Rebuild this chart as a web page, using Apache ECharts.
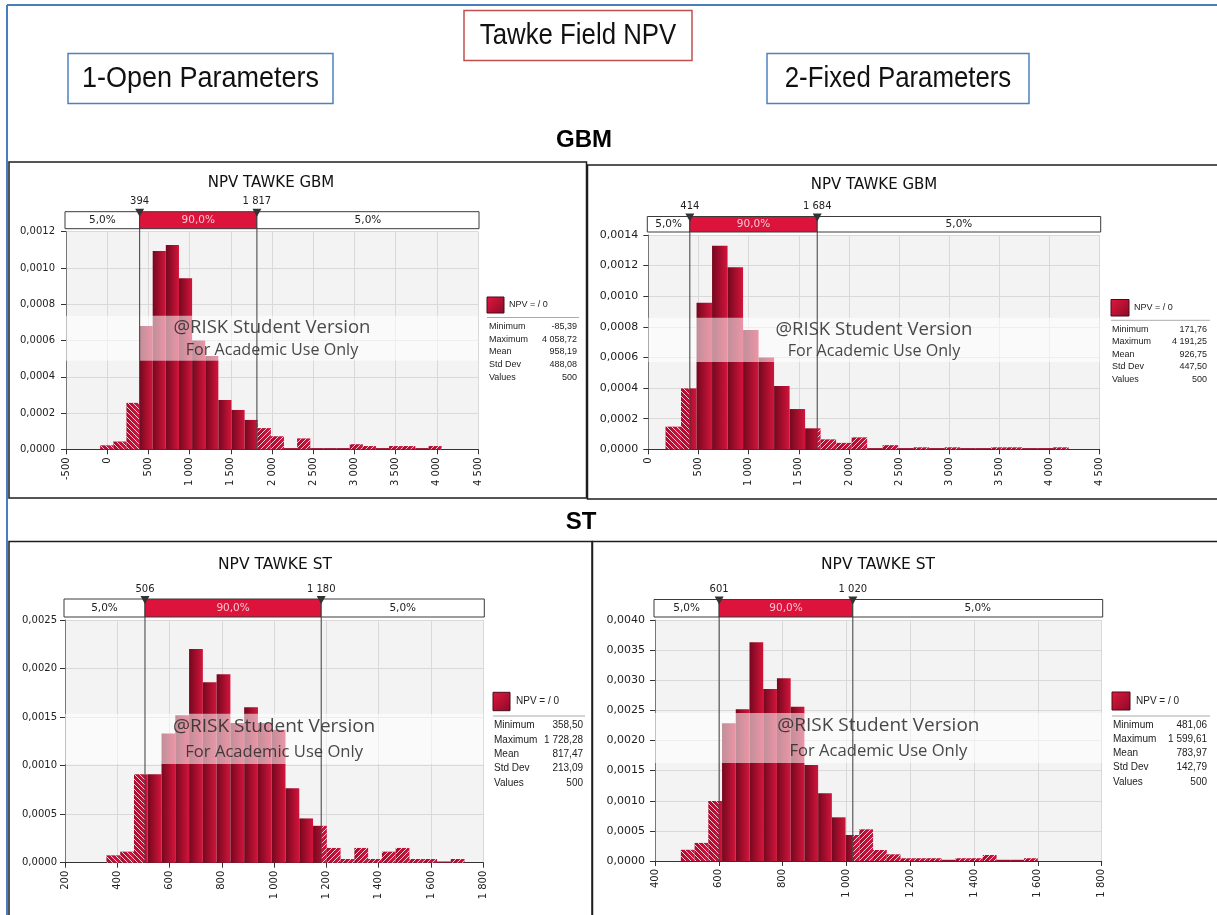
<!DOCTYPE html>
<html><head><meta charset="utf-8">
<script src="https://cdn.jsdelivr.net/npm/echarts@6/dist/echarts.min.js"></script>
<style>html,body{margin:0;padding:0;background:#fff;}#c{width:1217px;height:915px;}</style>
</head><body><div id="c"></div>
<script>
// ================= DATA =================
const pageTitle = 'Tawke Field NPV';
const columnTitles = ['1-Open Parameters', '2-Fixed Parameters'];
const rowTitles = ['GBM', 'ST'];
const panelTitles = ['NPV TAWKE GBM', 'NPV TAWKE GBM', 'NPV TAWKE ST', 'NPV TAWKE ST'];
const legendName = 'NPV = / 0';
const statLabels = ['Minimum', 'Maximum', 'Mean', 'Std Dev', 'Values'];
const tailShares = [5.0, 90.0, 5.0];

// probability density per bin (26 equal bins between Minimum and Maximum)
const gbmOpenDensity  = [0.000022, 0.000043, 0.000256, 0.00068, 0.001094, 0.001127, 0.000943, 0.0006, 0.000515, 0.000272, 0.000217, 0.000162, 0.000117, 0.000072, 0, 0.00006, 0, 0, 0, 0.000028, 0.000018, 0, 0.000018, 0.000018, 0, 0.000018];
const gbmFixedDensity = [0.000148, 0.000398, 0.000958, 0.00133, 0.001189, 0.000779, 0.000599, 0.000414, 0.000263, 0.000137, 0.000065, 0.000042, 0.000078, 0, 0.000027, 0, 0.000013, 0, 0.000013, 0, 0, 0.000013, 0.000013, 0, 0, 0.000013];
const stOpenDensity   = [0.000076, 0.000114, 0.00091, 0.00091, 0.00133, 0.00152, 0.0022, 0.00186, 0.00194, 0.00144, 0.0016, 0.00144, 0.00137, 0.000766, 0.000456, 0.00038, 0.000152, 0.000038, 0.000152, 0.000038, 0.000114, 0.000152, 0.000038, 0.000038, 0, 0.000038];
const stFixedDensity  = [0.000186, 0.0003, 0.000996, 0.002285, 0.002517, 0.003629, 0.002855, 0.003032, 0.002561, 0.001593, 0.001123, 0.000725, 0.000432, 0.000526, 0.000183, 0.000111, 0.000046, 0.000046, 0.000046, 0, 0.000046, 0.000046, 0.0001, 0, 0, 0.000046];

// statistics: Minimum, Maximum, Mean, Std Dev, Values
const gbmOpenStats  = [-85.39, 4058.72, 958.19, 488.08, 500];
const gbmFixedStats = [171.76, 4191.25, 926.75, 447.50, 500];
const stOpenStats   = [358.50, 1728.28, 817.47, 213.09, 500];
const stFixedStats  = [481.06, 1599.61, 783.97, 142.79, 500];

// 5% / 95% delimiters
const gbmOpenPct  = [394, 1817];
const gbmFixedPct = [414, 1684];
const stOpenPct   = [506, 1180];
const stFixedPct  = [601, 1020];

// axis ticks: [min, max, interval]
const gbmOpenXTicks  = [-500, 4500, 500];
const gbmFixedXTicks = [0, 4500, 500];
const stOpenXTicks   = [200, 1800, 200];
const stFixedXTicks  = [400, 1800, 200];
const gbmOpenYTicks  = [0, 0.0012, 0.0002];
const gbmFixedYTicks = [0, 0.0014, 0.0002];
const stOpenYTicks   = [0, 0.0025, 0.0005];
const stFixedYTicks  = [0, 0.0040, 0.0005];

// ================= LAYOUT =================
const panels = [
  {title: panelTitles[0], dens: gbmOpenDensity, stats: gbmOpenStats, pct: gbmOpenPct, xt: gbmOpenXTicks, yt: gbmOpenYTicks,
   grid: {left: 66, top: 231.7, width: 412, height: 217.6}, titleXY: [271, 183.5], bandH: 17, yfs: 10, ym: 11,
   leg: {x: 487, y: 297, sw: 17, sh: 16, tx: 509, lineY: 317.5, lineX2: 579, rowY: 326.7, step: 12.65, lx: 489, vx: 577, fs: 9}},
  {title: panelTitles[1], dens: gbmFixedDensity, stats: gbmFixedStats, pct: gbmFixedPct, xt: gbmFixedXTicks, yt: gbmFixedYTicks,
   grid: {left: 648.3, top: 235, width: 451.4, height: 214.3}, titleXY: [874, 185], bandH: 15.5, yfs: 11, ym: 10,
   leg: {x: 1111, y: 299.5, sw: 18, sh: 16.5, tx: 1134, lineY: 320.3, lineX2: 1210, rowY: 329.3, step: 12.5, lx: 1112, vx: 1207, fs: 9}},
  {title: panelTitles[2], dens: stOpenDensity, stats: stOpenStats, pct: stOpenPct, xt: stOpenXTicks, yt: stOpenYTicks,
   grid: {left: 65, top: 620, width: 418.3, height: 242.7}, titleXY: [275, 564.5], bandH: 18, yfs: 10, ym: 8,
   leg: {x: 493, y: 692.3, sw: 17, sh: 18.4, tx: 516, lineY: 716, lineX2: 585, rowY: 725.7, step: 14.3, lx: 494, vx: 583, fs: 10}},
  {title: panelTitles[3], dens: stFixedDensity, stats: stFixedStats, pct: stFixedPct, xt: stFixedXTicks, yt: stFixedYTicks,
   grid: {left: 655, top: 620, width: 446.7, height: 241}, titleXY: [878, 565], bandH: 17.5, yfs: 11, ym: 10,
   leg: {x: 1112, y: 692, sw: 18, sh: 18, tx: 1136, lineY: 716, lineX2: 1210, rowY: 725, step: 14.2, lx: 1113, vx: 1207, fs: 10}}
];

function fmtNum(v, d) {
  const neg = v < 0 && Math.abs(v) > 1e-12;
  let s = Math.abs(v).toFixed(d);
  let parts = s.split('.');
  let i = parts[0].replace(/\B(?=(\d{3})+(?!\d))/g, ' ');
  return (neg ? '-' : '') + i + (parts[1] ? ',' + parts[1] : '');
}

function makeHatch(dir) {
  const c = document.createElement('canvas');
  const n = 5; c.width = n; c.height = n;
  const g = c.getContext('2d');
  g.strokeStyle = 'rgba(255,255,255,0.8)'; g.lineWidth = 1;
  g.beginPath();
  for (let k = -n; k <= n; k += n) {
    if (dir === 'L') { g.moveTo(k, 0); g.lineTo(k + n, n); }
    else { g.moveTo(k + n, 0); g.lineTo(k, n); }
  }
  g.stroke();
  return c;
}
const hatchL = {image: makeHatch('L'), repeat: 'repeat'};
const hatchR = {image: makeHatch('R'), repeat: 'repeat'};

const axisFont = 'DejaVu Sans';

function barRenderer(pct) {
  return function (params, api) {
    const x0 = api.value(0), d = api.value(1), x1 = api.value(2);
    const a = api.coord([x0, d]), b = api.coord([x1, 0]);
    const base = b[1], top = a[1];
    const children = [];
    if (d <= 0) {
      children.push({type: 'rect', shape: {x: a[0], y: base - 1.2, width: b[0] - a[0], height: 1.2}, style: {fill: '#9a0d2c'}});
      return {type: 'group', children};
    }
    const solid = new echarts.graphic.LinearGradient(a[0], 0, b[0], 0, [{offset: 0, color: '#74081e'}, {offset: 1, color: '#d3143b'}], true);
    const tail = new echarts.graphic.LinearGradient(a[0], 0, b[0], 0, [{offset: 0, color: '#a90c2e'}, {offset: 1, color: '#d01640'}], true);
    const segs = [];
    const cut = (lo, hi, k) => { const s = Math.max(lo, x0), e = Math.min(hi, x1); if (e > s) segs.push([s, e, k]); };
    cut(-1e12, pct[0], 'L'); cut(pct[0], pct[1], 'M'); cut(pct[1], 1e12, 'R');
    segs.forEach(([s, e, k]) => {
      const sx = api.coord([s, 0])[0], ex = api.coord([e, 0])[0];
      const shape = {x: sx, y: top, width: ex - sx, height: base - top};
      children.push({type: 'rect', shape, style: {fill: k === 'M' ? solid : tail}});
      if (k !== 'M') children.push({type: 'rect', shape, style: {fill: k === 'L' ? hatchL : hatchR}});
    });
    return {type: 'group', children};
  };
}

function overlayRenderer(bandH) {
  return function (params, api) {
    const cs = params.coordSys;
    const p5 = api.value(0), p95 = api.value(2);
    const xa = api.coord([p5, 0])[0], xb = api.coord([p95, 0])[0];
    const top = cs.y - bandH - 3, h = bandH;
    const xr = cs.x + cs.width + 1, xl = cs.x - 1;
    const bottom = cs.y + cs.height;
    const H = cs.height;
    const f = (txt, x, y, color, size) => ({type: 'text', style: {text: txt, x, y, align: 'center', verticalAlign: 'middle', fill: color, font: size + 'px "' + axisFont + '"'}});
    const ch = [
      // watermark band
      {type: 'rect', shape: {x: cs.x, y: cs.y + 0.386 * H, width: cs.width, height: 0.207 * H}, style: {fill: 'rgba(255,255,255,0.55)'}},
      {type: 'text', style: {text: '@RISK Student Version', x: cs.x + cs.width / 2, y: cs.y + 0.44 * H, align: 'center', verticalAlign: 'middle', fill: 'rgba(40,40,40,0.85)', font: (H > 230 ? 19 : 18.5) + 'px "Open Sans"'}},
      {type: 'text', style: {text: 'For Academic Use Only', x: cs.x + cs.width / 2, y: cs.y + 0.545 * H, align: 'center', verticalAlign: 'middle', fill: 'rgba(40,40,40,0.85)', font: (H > 230 ? 16.6 : 16.1) + 'px "Open Sans"'}},
      // delimiter lines
      {type: 'line', shape: {x1: xa, y1: top, x2: xa, y2: bottom}, style: {stroke: '#3c3c3c', lineWidth: 1}},
      {type: 'line', shape: {x1: xb, y1: top, x2: xb, y2: bottom}, style: {stroke: '#3c3c3c', lineWidth: 1}},
      // percentile bar
      {type: 'rect', shape: {x: xl, y: top, width: xa - xl, height: h}, style: {fill: '#ffffff', stroke: '#3a3a3a', lineWidth: 1}},
      {type: 'rect', shape: {x: xa, y: top, width: xb - xa, height: h}, style: {fill: '#dc143c', stroke: '#3a3a3a', lineWidth: 1}},
      {type: 'rect', shape: {x: xb, y: top, width: xr - xb, height: h}, style: {fill: '#ffffff', stroke: '#3a3a3a', lineWidth: 1}},
      f(fmtNum(tailShares[0], 1) + '%', (xl + xa) / 2, top + h / 2 + 0.5, '#222', 10.5),
      f(fmtNum(tailShares[1], 1) + '%', (xa + xb) / 2, top + h / 2 + 0.5, '#f7c6d0', 10.5),
      f(fmtNum(tailShares[2], 1) + '%', (xb + xr) / 2, top + h / 2 + 0.5, '#222', 10.5),
      // markers
      {type: 'polygon', shape: {points: [[xa - 4.5, top - 3], [xa + 4.5, top - 3], [xa, top + 5]]}, style: {fill: '#333'}},
      {type: 'polygon', shape: {points: [[xb - 4.5, top - 3], [xb + 4.5, top - 3], [xb, top + 5]]}, style: {fill: '#333'}},
      f(fmtNum(p5, 0), xa, top - 10, '#222', 10),
      f(fmtNum(p95, 0), xb, top - 10, '#222', 10)
    ];
    return {type: 'group', children: ch};
  };
}

const grids = [], xAxes = [], yAxes = [], series = [], graphics = [];
panels.forEach((p, k) => {
  grids.push(Object.assign({show: true, backgroundColor: '#f3f3f3', borderWidth: 0}, p.grid));
  xAxes.push({
    type: 'value', gridIndex: k, min: p.xt[0], max: p.xt[1], interval: p.xt[2],
    axisLine: {show: true, onZero: false, lineStyle: {color: '#333', width: 1}},
    axisTick: {show: true, length: 5, lineStyle: {color: '#333'}},
    axisLabel: {rotate: 90, margin: 8, fontSize: 10, fontFamily: axisFont, color: '#222', formatter: v => fmtNum(v, 0)},
    splitLine: {show: true, lineStyle: {color: '#d9d9d9', width: 1}}
  });
  yAxes.push({
    type: 'value', gridIndex: k, min: p.yt[0], max: p.yt[1], interval: p.yt[2],
    axisLine: {show: true, onZero: false, lineStyle: {color: '#777', width: 1}},
    axisTick: {show: true, length: 5, lineStyle: {color: '#333'}},
    axisLabel: {margin: p.ym, fontSize: p.yfs, fontFamily: axisFont, color: '#222', formatter: v => v.toFixed(4).replace('.', ',')},
    splitLine: {show: true, lineStyle: {color: '#d9d9d9', width: 1}}
  });
  const mn = p.stats[0], mx = p.stats[1], w = (mx - mn) / p.dens.length;
  series.push({
    type: 'custom', xAxisIndex: k, yAxisIndex: k, z: 2, silent: true,
    renderItem: barRenderer(p.pct),
    encode: {x: [0, 2], y: 1},
    data: p.dens.map((d, i) => [mn + i * w, d, mn + (i + 1) * w])
  });
  series.push({
    type: 'custom', xAxisIndex: k, yAxisIndex: k, z: 5, silent: true,
    renderItem: overlayRenderer(p.bandH),
    encode: {x: [0, 2], y: 1},
    data: [[p.pct[0], 0, p.pct[1]]]
  });
  // panel title
  graphics.push({type: 'text', x: p.titleXY[0], y: p.titleXY[1], style: {text: p.title, align: 'center', verticalAlign: 'middle', fill: '#111', font: (k < 2 ? 15 : 15.5) + 'px "DejaVu Sans"'}});
  // legend & stats
  const L = p.leg;
  graphics.push({type: 'rect', shape: {x: L.x, y: L.y, width: L.sw, height: L.sh},
    style: {fill: new echarts.graphic.LinearGradient(0, 0, 1, 1, [{offset: 0, color: '#e3173f'}, {offset: 1, color: '#8a0a26'}]), stroke: '#4a0a16', lineWidth: 1}});
  graphics.push({type: 'text', x: L.tx, y: L.y + L.sh / 2, style: {text: legendName, verticalAlign: 'middle', fill: '#222', font: L.fs + 'px "Liberation Sans"'}});
  graphics.push({type: 'line', shape: {x1: L.x, y1: L.lineY, x2: L.lineX2, y2: L.lineY}, style: {stroke: '#aaaaaa', lineWidth: 1}});
  statLabels.forEach((lab, r) => {
    const yy = L.rowY + r * L.step;
    graphics.push({type: 'text', x: L.lx, y: yy, style: {text: lab, verticalAlign: 'middle', fill: '#222', font: L.fs + 'px "Liberation Sans"'}});
    graphics.push({type: 'text', x: L.vx, y: yy, style: {text: fmtNum(p.stats[r], r === 4 ? 0 : 2), align: 'right', verticalAlign: 'middle', fill: '#222', font: L.fs + 'px "Liberation Sans"'}});
  });
});

// page frame and headings
const boxFont = '"Liberation Sans", sans-serif';
graphics.push(
  {type: 'line', shape: {x1: 7, y1: 5, x2: 1217, y2: 5}, style: {stroke: '#4a7ebb', lineWidth: 2}},
  {type: 'line', shape: {x1: 7, y1: 5, x2: 7, y2: 915}, style: {stroke: '#4a7ebb', lineWidth: 2}},
  {type: 'rect', shape: {x: 9, y: 162, width: 577.5, height: 336}, style: {fill: 'none', stroke: '#1e1e1e', lineWidth: 1.5}},
  {type: 'rect', shape: {x: 587.5, y: 165, width: 640, height: 334}, style: {fill: 'none', stroke: '#1e1e1e', lineWidth: 1.5}},
  {type: 'rect', shape: {x: 9, y: 541.5, width: 583, height: 400}, style: {fill: 'none', stroke: '#1e1e1e', lineWidth: 1.5}},
  {type: 'rect', shape: {x: 592.5, y: 541.5, width: 640, height: 400}, style: {fill: 'none', stroke: '#1e1e1e', lineWidth: 1.5}},
  {type: 'rect', shape: {x: 464, y: 10.5, width: 228, height: 50}, style: {fill: '#fff', stroke: '#c0504d', lineWidth: 1.5}},
  {type: 'text', x: 578, y: 36, scaleX: 0.86, style: {text: pageTitle, align: 'center', verticalAlign: 'middle', fill: '#111', font: '30px ' + boxFont}},
  {type: 'rect', shape: {x: 68, y: 53.5, width: 265, height: 50}, style: {fill: '#fff', stroke: '#4f81bd', lineWidth: 1.5}},
  {type: 'text', x: 200.5, y: 79, scaleX: 0.9, style: {text: columnTitles[0], align: 'center', verticalAlign: 'middle', fill: '#111', font: '30px ' + boxFont}},
  {type: 'rect', shape: {x: 767, y: 53.5, width: 262, height: 50}, style: {fill: '#fff', stroke: '#4f81bd', lineWidth: 1.5}},
  {type: 'text', x: 898, y: 79, scaleX: 0.86, style: {text: columnTitles[1], align: 'center', verticalAlign: 'middle', fill: '#111', font: '30px ' + boxFont}},
  {type: 'text', x: 584, y: 140, style: {text: rowTitles[0], align: 'center', verticalAlign: 'middle', fill: '#000', font: 'bold 24px "Liberation Sans"'}},
  {type: 'text', x: 581, y: 522, style: {text: rowTitles[1], align: 'center', verticalAlign: 'middle', fill: '#000', font: 'bold 24px "Liberation Sans"'}}
);

const chart = echarts.init(document.getElementById('c'), null, {renderer: 'canvas', width: 1217, height: 915});
chart.setOption({
  animation: false,
  backgroundColor: '#ffffff',
  grid: grids, xAxis: xAxes, yAxis: yAxes, series: series,
  graphic: {elements: graphics}
});
</script>
</body></html>
